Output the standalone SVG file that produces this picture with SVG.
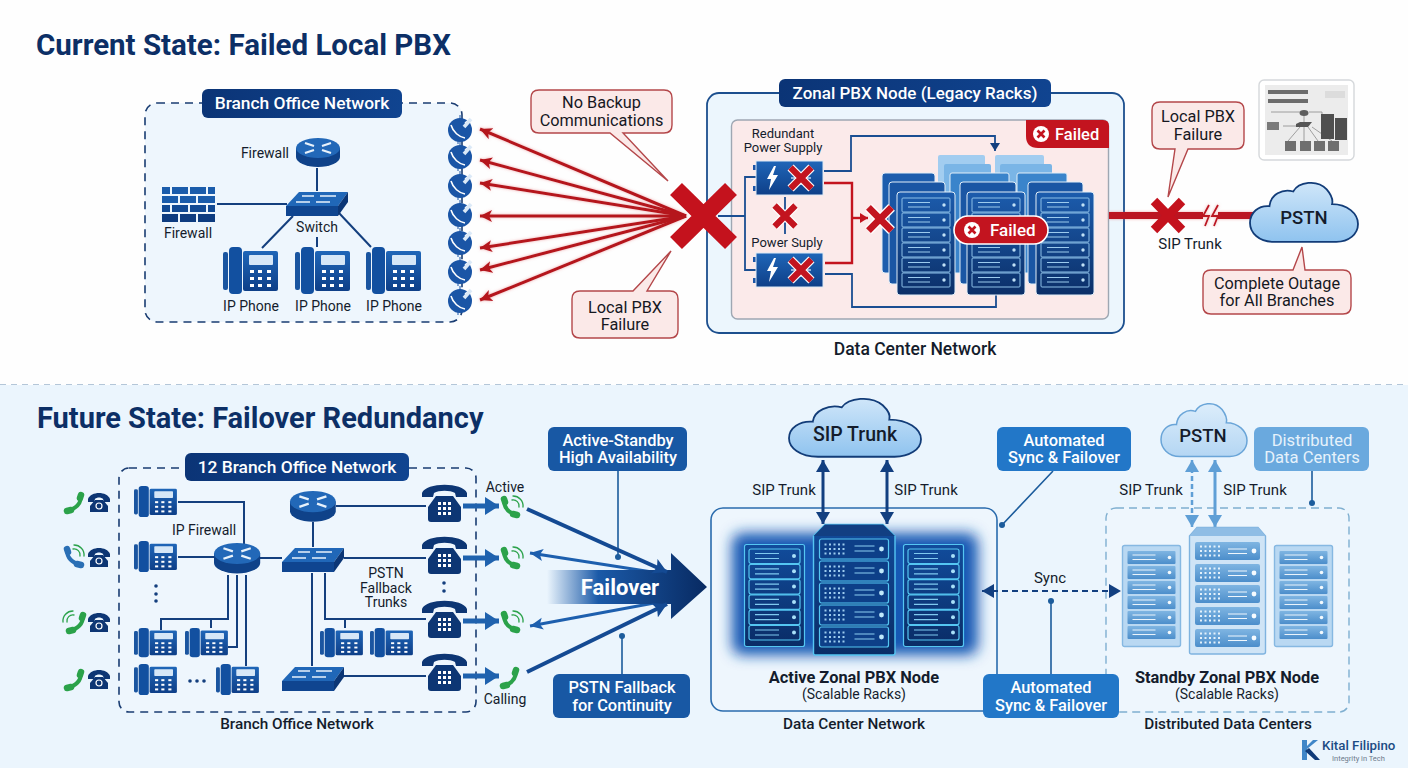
<svg xmlns="http://www.w3.org/2000/svg" width="1408" height="768" viewBox="0 0 1408 768">
<style>
text{font-family:Roboto,"Liberation Sans",sans-serif;fill:#141c2c;font-size:14px}
.c{text-anchor:middle}
.s15{font-size:15px}
.lb{font-size:15.300px;font-weight:500;text-anchor:middle}
.h{font-size:29.500px;font-weight:700;fill:#0c2f66}
.pt{font-size:17.400px;font-weight:500;fill:#fff;text-anchor:middle}
.bt{font-size:16.400px;text-anchor:middle;fill:#fff;font-weight:500}
.rt{font-size:16.300px;text-anchor:middle;fill:#16181f}
.b{font-weight:700;font-size:16.400px;text-anchor:middle}
.pill{fill:url(#navy)}
.call{fill:#fbe9e8;stroke:#b4474a;stroke-width:1.400}
.wire{fill:none;stroke:#143f7e;stroke-width:2}
.thin{fill:none;stroke:#1a4e92;stroke-width:1.800}
.redw{fill:none;stroke:#c3141f;stroke-width:2.400}
.redarrow{stroke:#b5141d;stroke-width:3;marker-end:url(#rh)}
.fan{stroke:#1d5fae;stroke-width:3;marker-end:url(#bh2)}
.dk{stroke:#144a93;stroke-width:4;marker-end:url(#dkh)}
.ph{stroke:#1f62ae;stroke-width:5;marker-end:url(#bh3)}
.lead{fill:none;stroke:#1c5c9c;stroke-width:1.600}
.dot{fill:#1c5c9c}
.gr{fill:none;stroke:#2ba24a;stroke-linecap:round}
</style>
<defs>
<linearGradient id="navy" x1="0" x2="1" y1="0" y2="0"><stop offset="0" stop-color="#0b3476"/><stop offset="1" stop-color="#104490"/></linearGradient>
<linearGradient id="blue" x1="0" y1="0" x2="0" y2="1"><stop offset="0" stop-color="#1f66b8"/><stop offset="1" stop-color="#0e3f88"/></linearGradient>
<linearGradient id="rackg" x1="0" y1="0" x2="0" y2="1"><stop offset="0" stop-color="#1c5cad"/><stop offset="1" stop-color="#0b2f68"/></linearGradient>
<linearGradient id="acg" x1="0" y1="0" x2="0" y2="1"><stop offset="0" stop-color="#114c9c"/><stop offset="1" stop-color="#0a2c66"/></linearGradient>
<linearGradient id="stg" x1="0" y1="0" x2="0" y2="1"><stop offset="0" stop-color="#7fb5e2"/><stop offset="1" stop-color="#4c8ecb"/></linearGradient>
<linearGradient id="fo" x1="0" x2="1" y1="0" y2="0"><stop offset="0" stop-color="#1b5aa8" stop-opacity="0"/><stop offset=".32" stop-color="#1b5aa8"/><stop offset="1" stop-color="#082a62"/></linearGradient>
<linearGradient id="cl" x1="0" y1="0" x2="0" y2="1"><stop offset="0" stop-color="#cfe6f9"/><stop offset="1" stop-color="#8fc3ef"/></linearGradient>
<linearGradient id="cl2" x1="0" y1="0" x2="0" y2="1"><stop offset="0" stop-color="#dcedfb"/><stop offset="1" stop-color="#b4d6f3"/></linearGradient>
<filter id="rglow" filterUnits="userSpaceOnUse" x="0" y="0" width="1408" height="768"><feDropShadow dx="0" dy="0" stdDeviation="1.600" flood-color="#e2646a" flood-opacity=".55"/></filter>
<filter id="blur14" x="-20%" y="-30%" width="140%" height="160%"><feGaussianBlur stdDeviation="7"/></filter>
<marker id="rh" markerUnits="userSpaceOnUse" markerWidth="14" markerHeight="14" refX="12" refY="7" orient="auto"><path d="M0,1 L12,7 L0,13 L3,7Z" fill="#b5141d"/></marker>
<marker id="bh2" markerUnits="userSpaceOnUse" markerWidth="14" markerHeight="14" refX="13" refY="7" orient="auto"><path d="M0,1 L13,7 L0,13 L3,7Z" fill="#1d5fae"/></marker>
<marker id="dkh" markerUnits="userSpaceOnUse" markerWidth="16" markerHeight="16" refX="14" refY="8" orient="auto"><path d="M0,0 L14,8 L0,16 L3,8Z" fill="#144a93"/></marker>
<marker id="bh3" markerUnits="userSpaceOnUse" markerWidth="16" markerHeight="18" refX="14" refY="9" orient="auto"><path d="M0,0 L14,9 L0,18Z" fill="#1f62ae"/></marker>
<marker id="nv" markerUnits="userSpaceOnUse" markerWidth="14" markerHeight="14" refX="12" refY="7" orient="auto-start-reverse"><path d="M0,0 L12,7 L0,14Z" fill="#123f80"/></marker>
<marker id="lb" markerUnits="userSpaceOnUse" markerWidth="14" markerHeight="14" refX="12" refY="7" orient="auto-start-reverse"><path d="M0,0 L12,7 L0,14Z" fill="#5f9fd6"/></marker>
<marker id="sm" markerUnits="userSpaceOnUse" markerWidth="10" markerHeight="10" refX="8" refY="5" orient="auto"><path d="M0,0 L8,5 L0,10Z" fill="#143f7e"/></marker>
<marker id="smr" markerUnits="userSpaceOnUse" markerWidth="10" markerHeight="10" refX="8" refY="5" orient="auto"><path d="M0,0 L8,5 L0,10Z" fill="#c3141f"/></marker>

<g id="ipphone">
<rect x="0" y="5" width="5" height="38" rx="2" fill="#1a55a0"/>
<rect x="6" y="0" width="13" height="47" rx="4" fill="#1250a0"/>
<rect x="20" y="4" width="35" height="40" rx="2" fill="url(#blue)"/>
<rect x="26" y="8" width="24" height="10" rx="1" fill="#d6e7f7"/>
<g fill="#fff"><rect x="27" y="23" width="4" height="3"/><rect x="35" y="23" width="4" height="3"/><rect x="44" y="23" width="4" height="3"/><rect x="27" y="30" width="4" height="3"/><rect x="35" y="30" width="4" height="3"/><rect x="44" y="30" width="4" height="3"/><rect x="27" y="37" width="4" height="3"/><rect x="35" y="37" width="4" height="3"/><rect x="44" y="37" width="4" height="3"/></g>
</g>
<g id="router">
<path d="M0,10 V19 A22,10 0 0 0 44,19 V10Z" fill="#0f4289"/>
<ellipse cx="22" cy="10" rx="22" ry="10" fill="#2268b8"/>
<path d="M9,5 L18,8 M35,5 L26,8 M9,15 L18,12 M35,15 L26,12" stroke="#e8f2fb" stroke-width="2.200" fill="none"/>
</g>
<g id="switch">
<path d="M0,15 L13,1 H62 L52,15Z" fill="#2067b8"/>
<rect x="0" y="15" width="52" height="10" fill="#0f4590"/>
<path d="M52,15 L62,1 V11 L52,25Z" fill="#0b3676"/>
<path d="M16,5 H28 M34,5 H50 M10,11 H24 M30,11 H44" stroke="#e8f2fb" stroke-width="1.400" fill="none"/>
</g>
<g id="firewall" fill="#1a5cab">
<rect x="0" y="0" width="8" height="7"/><rect x="10" y="0" width="16" height="7"/><rect x="28" y="0" width="16" height="7"/><rect x="46" y="0" width="7" height="7"/>
<rect x="0" y="9" width="16" height="7"/><rect x="18" y="9" width="16" height="7"/><rect x="36" y="9" width="17" height="7"/>
<rect x="0" y="18" width="8" height="7" fill="#124a94"/><rect x="10" y="18" width="16" height="7" fill="#124a94"/><rect x="28" y="18" width="16" height="7" fill="#124a94"/><rect x="46" y="18" width="7" height="7" fill="#124a94"/>
<rect x="0" y="27" width="16" height="8" fill="#0e3c80"/><rect x="18" y="27" width="16" height="8" fill="#0e3c80"/><rect x="36" y="27" width="17" height="8" fill="#0e3c80"/>
</g>
<g id="classic">
<path d="M0,8 C4,-3 41,-3 45,8 V12 H34 L33,8 C28,5 17,5 12,8 L11,12 H0Z" fill="#0d3674"/>
<path d="M14,11 H31 L39,22 V34 Q39,37 36,37 H9 Q6,37 6,34 V22Z" fill="#0d3674"/>
<g fill="#fff"><rect x="16" y="17" width="3" height="3"/><rect x="21" y="17" width="3" height="3"/><rect x="26" y="17" width="3" height="3"/><rect x="16" y="22" width="3" height="3"/><rect x="21" y="22" width="3" height="3"/><rect x="26" y="22" width="3" height="3"/><rect x="16" y="27" width="3" height="3"/><rect x="21" y="27" width="3" height="3"/><rect x="26" y="27" width="3" height="3"/></g>
</g>
<g id="oldphone">
<path d="M0,6 C3,-2 19,-2 22,6 V9 H16 L15,6 C13,4 9,4 7,6 L6,9 H0Z" fill="#0d3674"/>
<path d="M7,7 H15 L20,13 V19 H2 V13Z" fill="#0d3674"/>
<circle cx="11" cy="13" r="3" fill="none" stroke="#fff" stroke-width="1.200"/>
</g>
<g id="badge">
<circle r="12" fill="#1a55a6"/>
<path d="M-9,-5 C-7,2 -1,7 5,8 M5,-7 L11,-12" stroke="#fff" stroke-width="1.600" fill="none"/>
<path d="M4,-3 L11,-11" stroke="#dbe9f7" stroke-width="3.600"/>
<path d="M0,-15 V-11 M-2,14 V10" stroke="#1a55a6" stroke-width="1"/>
</g>
<g id="hsR"><path class="gr" stroke-width="4" d="M-6,-7 C-6,1 -1,6 7,8"/><path class="gr" stroke-width="6.500" d="M-6,-8 L-5,-5 M3,7 L7,8"/></g>
<g id="hsL"><path class="gr" stroke-width="4" d="M7,-7 C7,1 1,6 -7,8"/><path class="gr" stroke-width="6.500" d="M7,-8 L6,-5 M-3,7 L-7,8"/></g>
<g id="wavesR"><path class="gr" stroke-width="1.300" d="M1,-6 A6,6 0 0 1 8,1 M2,-10 A10,10 0 0 1 12,1"/></g>
<g id="xs"><path d="M-11,-11 L11,11 M11,-11 L-11,11" stroke="#fff" stroke-width="9" fill="none"/><path d="M-11,-11 L11,11 M11,-11 L-11,11" stroke="#c3141f" stroke-width="6.500" fill="none"/></g>
<g id="xc"><circle r="8" fill="#fff"/><path d="M-3.500,-3.500 L3.500,3.500 M3.500,-3.500 L-3.500,3.500" stroke="#c3141f" stroke-width="2.600"/></g>
<g id="psu">
<rect x="-3" y="4" width="3" height="5" fill="#1a55a6"/><rect x="-3" y="25" width="3" height="5" fill="#1a55a6"/>
<rect width="67" height="34" fill="url(#blue)" stroke="#dde9f5"/>
<path d="M18,5 L11,18 H15 L13,29 L22,14 H17 L20,5Z" fill="#fff"/>
<path d="M35,12 H55 M35,17 H55 M35,23 H55" stroke="#bcd6ee" stroke-width="1.400"/>
<use href="#xs" transform="translate(45,17) scale(.95)"/>
</g>
<g id="u"><rect x="0" y="0" width="48" height="14" rx="1" fill="none" stroke="#8dc0e8" stroke-width="1"/><path d="M6,4.500 H28 M6,9 H28" stroke="#9ccbee" stroke-width="1.200"/><circle cx="42" cy="7" r="1.700" fill="#bfe0f6"/></g>
<g id="legacy">
<rect x="0" y="0" width="58" height="103" rx="3" fill="url(#rackg)" stroke="#e2eef8"/>
<use href="#u" x="5" y="6"/><use href="#u" x="5" y="21"/><use href="#u" x="5" y="36"/><use href="#u" x="5" y="51"/><use href="#u" x="5" y="66"/><use href="#u" x="5" y="81"/>
</g>
<g id="ua"><rect x="0" y="0" width="51" height="14.500" rx="2" fill="none" stroke="#55c6f2" stroke-width="1.200"/><path d="M6,4.500 H30 M6,9.500 H30" stroke="#7fc9ef" stroke-width="1.200"/><circle cx="45" cy="7" r="2" fill="#a8e0f8"/></g>
<g id="active">
<rect x=".5" y=".5" width="60" height="102" rx="2" fill="url(#acg)" stroke="#55c6f2" stroke-width="1.200"/>
<use href="#ua" x="5" y="5"/><use href="#ua" x="5" y="20.300"/><use href="#ua" x="5" y="35.600"/><use href="#ua" x="5" y="50.900"/><use href="#ua" x="5" y="66.200"/><use href="#ua" x="5" y="81.500"/>
</g>
<g id="dots6"><path d="M0,0 H22 M0,4.500 H22 M0,9 H22" stroke-width="2" stroke-dasharray="2 2.500" fill="none"/></g>
<g id="uA"><rect width="69" height="20" rx="2" fill="#0d3f88" stroke="#55c6f2" stroke-width="1.200"/><use href="#dots6" x="5" y="5.500" stroke="#9ccbee"/><path d="M35,7 H55 M35,12 H55" stroke="#8dd0f2" stroke-width="1.200"/><circle cx="62" cy="10" r="2.400" fill="#bfe9fb"/></g>
<g id="activeC">
<path d="M.5,12 L12,.5 H70 L82,12 V129 Q82,131 80,131 H2 Q.5,131 .5,129Z" fill="url(#acg)" stroke="#55c6f2" stroke-width="1.400"/>
<path d="M.5,12 L12,.5 H70 L82,12Z" fill="#123f82"/>
<use href="#uA" x="6.500" y="15"/><use href="#uA" x="6.500" y="37"/><use href="#uA" x="6.500" y="59"/><use href="#uA" x="6.500" y="81"/><use href="#uA" x="6.500" y="103"/>
</g>
<g id="us"><rect width="48" height="13" rx="1" fill="url(#stg)"/><path d="M5,4 H28 M5,8.500 H28" stroke="#eaf4fc" stroke-width="1.200"/><circle cx="42" cy="6.500" r="1.800" fill="#f4fafe"/></g>
<g id="standby">
<rect x=".5" y=".5" width="58" height="101" rx="2" fill="#b9d8f2" stroke="#86b8e2" stroke-width="1.400"/>
<use href="#us" x="5.500" y="6"/><use href="#us" x="5.500" y="21"/><use href="#us" x="5.500" y="36"/><use href="#us" x="5.500" y="51"/><use href="#us" x="5.500" y="66"/><use href="#us" x="5.500" y="81"/>
</g>
<g id="uS"><rect width="65" height="18" rx="2" fill="url(#stg)"/><use href="#dots6" x="5" y="4.500" stroke="#e4f1fb"/><path d="M33,7 H52 M33,11.500 H52" stroke="#f0f7fd" stroke-width="1.200"/><circle cx="59" cy="9" r="2.400" fill="#f6fbff"/></g>
<g id="standbyC">
<path d="M.5,9 L8,.5 H69 L76.500,9 V125 Q76.500,127 74,127 H2.500 Q.5,127 .5,125Z" fill="#cfe4f6" stroke="#7fb3df" stroke-width="1.400"/>
<path d="M.5,9 L8,.5 H69 L76.500,9Z" fill="#8fbde5"/>
<use href="#uS" x="6" y="15"/><use href="#uS" x="6" y="37"/><use href="#uS" x="6" y="58"/><use href="#uS" x="6" y="80"/><use href="#uS" x="6" y="102"/>
</g>
<path id="cloud" d="M22,58 C8,58 0,49 0,40 C0,30 8,23 18,24 C19,13 30,7 40,10 C45,1 62,-2 71,8 C76,14 77,18 76,22 C90,22 100,31 100,41 C100,51 91,58 80,58Z" vector-effect="non-scaling-stroke"/>
</defs>

<rect width="1408" height="768" fill="#fefefe"/>
<rect y="385" width="1408" height="383" fill="#ebf5fd"/>
<path d="M0,384.500 H1408" stroke="#b4c6d8" stroke-dasharray="6 5" fill="none"/>

<text class="h" x="36" y="55">Current State: Failed Local PBX</text>
<text class="h" x="37" y="428" style="font-size:29px">Future State: Failover Redundancy</text>

<g id="branch-top-frame">
<rect x="145" y="103" width="317" height="219" rx="12" fill="#eef6fd" stroke="#1a3d72" stroke-width="1.600" stroke-dasharray="8 6"/>
</g>
<g id="zonal-frame">
<rect x="707" y="93" width="417" height="240" rx="12" fill="#ecf6fd" stroke="#1c4f8e" stroke-width="1.800"/>
<rect x="731.500" y="120" width="377" height="199" rx="6" fill="#fbeaea" stroke="#9ea7b2" stroke-width="1.400"/>
</g>
<g id="branch-bottom-frame">
<rect x="119" y="468" width="357" height="244" rx="10" fill="#eef6fd" stroke="#1a3d72" stroke-width="1.600" stroke-dasharray="8 6"/>
</g>
<g id="active-frame">
<rect x="711" y="508" width="286" height="203" rx="12" fill="#eef6fd" stroke="#2a6bad" stroke-width="1.600"/>
<rect x="732" y="533" width="246" height="122" rx="10" fill="#1458b4" filter="url(#blur14)"/>
</g>
<g id="standby-frame">
<rect x="1106" y="508" width="243" height="204" rx="10" fill="#eef6fd" stroke="#7fafd0" stroke-width="1.400" stroke-dasharray="8 5"/>
</g>

<g id="connectors">
<path class="wire" d="M317,168 V191 M217,204 H287 M293,216 L262,248 M317,237 V247 M339,213 L371,247"/>
<g filter="url(#rglow)">
<line class="redarrow" x1="686" y1="216" x2="480" y2="129"/>
<line class="redarrow" x1="686" y1="216" x2="480" y2="160"/>
<line class="redarrow" x1="686" y1="216" x2="480" y2="183"/>
<line class="redarrow" x1="686" y1="216" x2="480" y2="216"/>
<line class="redarrow" x1="686" y1="216" x2="480" y2="248"/>
<line class="redarrow" x1="686" y1="216" x2="480" y2="270"/>
<line class="redarrow" x1="686" y1="216" x2="480" y2="300"/>
</g>
<path class="thin" d="M718,216 H745 M756,177 H745 V270 H756 M785,197 V234"/>
<path class="thin" d="M824,171 H851 V136 H995 V151" marker-end="url(#sm)"/>
<path class="thin" d="M825,274 H852 V307 H996 V294"/>
<path class="redw" d="M824,183 H852 V263 H825"/>
<path class="redw" d="M852,218 H868" marker-end="url(#smr)"/>
<g filter="url(#rglow)"><path d="M1109,215.500 H1203 M1218,215.500 H1256" stroke="#bb1620" stroke-width="7" fill="none"/>
<path d="M1209,205 L1203,216 L1209,216 L1205,226 M1218,205 L1212,216 L1218,216 L1214,226" stroke="#bb1620" stroke-width="1.800" fill="none"/></g>

<path class="wire" d="M178,502 H244 V544 M178,557 H214 M260,558 H282 M313,522 V547 M336,506 H426 M344,558 H426 M312,573 V666 M325,573 V619 H426 M345,619 V628 M344,676 H426"/>
<path class="wire" d="M228,575 V619 H161 V630 M211,619 V628 M237,575 V647 H228 M246,575 V666"/>
<line class="ph" x1="463" y1="506" x2="499" y2="506"/>
<line class="ph" x1="463" y1="558" x2="499" y2="558"/>
<line class="ph" x1="463" y1="621" x2="499" y2="621"/>
<line class="ph" x1="463" y1="676" x2="499" y2="676"/>
<line class="fan" x1="665" y1="574" x2="530" y2="553"/>
<line class="fan" x1="665" y1="601" x2="530" y2="626"/>
<path class="lead" d="M618,471 V557 M622,674 V636 M1053,471 L1002,525 M1051,674 V601 M1312,471 V503"/>
<circle class="dot" cx="618" cy="557" r="3"/><circle class="dot" cx="622" cy="636" r="3"/><circle class="dot" cx="1002" cy="525" r="3"/><circle class="dot" cx="1051" cy="601" r="3"/><circle class="dot" cx="1312" cy="503" r="3"/>
<path d="M823,460 V524" stroke="#123f80" stroke-width="3" marker-start="url(#nv)" marker-end="url(#nv)" fill="none"/>
<path d="M887,460 V524" stroke="#123f80" stroke-width="3" marker-start="url(#nv)" marker-end="url(#nv)" fill="none"/>
<path d="M982,591 H1121" stroke="#123f80" stroke-width="2" stroke-dasharray="6 4" marker-start="url(#nv)" marker-end="url(#nv)" fill="none"/>
<path d="M1192,460 V527" stroke="#5f9fd6" stroke-width="2.500" stroke-dasharray="5 3" marker-start="url(#lb)" marker-end="url(#lb)" fill="none"/>
<path d="M1215,460 V527" stroke="#5f9fd6" stroke-width="3" marker-start="url(#lb)" marker-end="url(#lb)" fill="none"/>
</g>

<g id="branch-top-title"><rect class="pill" x="202" y="89" width="200" height="29" rx="6"/><text class="pt" x="302" y="109">Branch Office Network</text></g>
<g id="router-top"><use href="#router" x="296" y="138"/><text x="289" y="158" text-anchor="end">Firewall</text></g>
<g id="switch-top"><use href="#switch" x="286" y="191"/><text class="c" x="317" y="232">Switch</text></g>
<g id="firewall-top"><use href="#firewall" x="162" y="187"/><text class="c" x="188" y="238">Firewall</text></g>
<g id="phone-1"><use href="#ipphone" x="223" y="247"/><text class="c" x="251" y="311">IP Phone</text></g>
<g id="phone-2"><use href="#ipphone" x="295" y="247"/><text class="c" x="323" y="311">IP Phone</text></g>
<g id="phone-3"><use href="#ipphone" x="366" y="247"/><text class="c" x="394" y="311">IP Phone</text></g>
<g id="badges">
<use href="#badge" x="460" y="130"/><use href="#badge" x="460" y="157"/><use href="#badge" x="460" y="186"/><use href="#badge" x="460" y="215"/><use href="#badge" x="460" y="243"/><use href="#badge" x="460" y="272"/><use href="#badge" x="460" y="301"/>
</g>

<g id="callout-backup"><path class="call" d="M539,90 H664 Q672,90 672,98 V125 Q672,133 664,133 H623 L668,181 L610,133 H539 Q531,133 531,125 V98 Q531,90 539,90Z"/><text class="rt" x="601.500" y="108">No Backup</text><text class="rt" x="601.500" y="126">Communications</text></g>
<g id="callout-local"><path class="call" d="M580,291 H633 L671,251 L647,291 H670 Q678,291 678,299 V330 Q678,338 670,338 H580 Q572,338 572,330 V299 Q572,291 580,291Z"/><text class="rt" x="625" y="313">Local PBX</text><text class="rt" x="625" y="330">Failure</text></g>
<g id="big-x"><path d="M676,189 L731,243 M731,189 L676,243" stroke="#c4121d" stroke-width="17" fill="none"/></g>

<g id="zonal-title"><rect class="pill" x="779" y="79" width="272" height="28" rx="6"/><text class="pt" x="915" y="99" style="font-size:17px">Zonal PBX Node (Legacy Racks)</text></g>
<g id="failed-tab"><path d="M1026,120 H1103 Q1109,120 1109,126 V148 H1038 Q1026,148 1026,136Z" fill="#c3141f"/><use href="#xc" x="1041" y="134"/><text x="1055" y="140" style="fill:#fff;font-size:16.500px;font-weight:500">Failed</text></g>
<g id="psu-a"><text class="c" x="783" y="138" style="font-size:13px">Redundant</text><text class="c" x="783" y="152" style="font-size:13px">Power Supply</text><use href="#psu" x="756" y="161"/></g>
<g id="psu-b"><text class="c" x="787" y="247" style="font-size:13px">Power Suply</text><use href="#psu" x="756" y="253"/></g>
<g id="x-mid"><use href="#xs" transform="translate(785,216) scale(.95)"/></g>

<g id="racks-back">
<rect x="938" y="155" width="47" height="60" rx="2" fill="#a2cdf0"/><rect x="995" y="155" width="49" height="60" rx="2" fill="#a2cdf0"/>
<rect x="944" y="164" width="47" height="70" rx="2" fill="#7ab5e6"/><rect x="1000" y="164" width="52" height="70" rx="2" fill="#7ab5e6"/>
<rect x="950" y="173" width="59" height="100" rx="2" fill="#3a84cb" stroke="#e2eef8"/><rect x="1017" y="173" width="50" height="100" rx="2" fill="#3a84cb" stroke="#e2eef8"/>
<rect x="882" y="173" width="53" height="100" rx="3" fill="#1d5dad" stroke="#e2eef8"/>
<rect x="889" y="182" width="56" height="102" rx="3" fill="#1a56a4" stroke="#e2eef8"/>
<rect x="960" y="182" width="56" height="102" rx="3" fill="#1a56a4" stroke="#e2eef8"/>
<rect x="1028" y="182" width="55" height="102" rx="3" fill="#1a56a4" stroke="#e2eef8"/>
</g>
<g id="rack-a"><use href="#legacy" x="897" y="192"/></g>
<g id="rack-b"><use href="#legacy" x="967" y="192"/></g>
<g id="rack-c"><use href="#legacy" x="1036" y="192"/></g>
<g id="x-racks"><use href="#xs" transform="translate(880,219) scale(1.050)"/></g>
<g id="failed-pill"><rect x="954" y="216" width="94" height="28" rx="14" fill="#c3141f" stroke="#fff" stroke-width="1.600"/><use href="#xc" x="972" y="230"/><text x="990" y="236" style="fill:#fff;font-size:17px;font-weight:500">Failed</text></g>
<text class="c" x="915" y="355" style="font-size:17.500px;font-weight:500">Data Center Network</text>

<g id="thumbnail">
<rect x="1259" y="80" width="95" height="80" rx="5" fill="#fff" stroke="#d5d8db" stroke-width="1.400"/>
<rect x="1265" y="85" width="83" height="70" fill="#ececec"/>
<path d="M1268,90 H1308 V94 H1268Z M1268,99 H1308 V103 H1268Z" fill="#6c6c6c"/>
<rect x="1325" y="91" width="20" height="7" fill="#dcdcdc"/>
<ellipse cx="1304" cy="113" rx="4.500" ry="3" fill="#5e5e5e"/>
<path d="M1271,112 H1300 M1304,116 V124 M1309,112 H1322 V118 M1300,127 L1288,141 M1304,127 V141 M1308,127 L1318,141 M1312,127 L1332,141 M1283,126 H1296" stroke="#8a8a8a" fill="none" stroke-width=".8"/>
<rect x="1267" y="122" width="12" height="8" fill="#7a7a7a"/>
<path d="M1296,124 L1300,122 H1312 L1308,127 H1296Z" fill="#555"/>
<rect x="1321" y="114" width="13" height="25" fill="#4f4f4f"/><rect x="1335" y="118" width="12" height="22" fill="#4f4f4f"/>
<rect x="1285" y="141" width="11" height="10" fill="#6f6f6f"/><rect x="1300" y="141" width="11" height="10" fill="#6f6f6f"/><rect x="1314" y="141" width="11" height="10" fill="#6f6f6f"/><rect x="1328" y="141" width="11" height="10" fill="#6f6f6f"/>
</g>
<g id="callout-sip"><path class="call" d="M1160,102 H1236 Q1244,102 1244,110 V141 Q1244,149 1236,149 H1188 L1168,197 L1175,149 H1160 Q1152,149 1152,141 V110 Q1152,102 1160,102Z"/><text class="rt" x="1198" y="122">Local PBX</text><text class="rt" x="1198" y="140">Failure</text></g>
<g id="x-sip"><path d="M1154,201 L1182,230 M1182,201 L1154,230" stroke="#c4121d" stroke-width="9" fill="none"/><text class="c s15" x="1190" y="249">SIP Trunk</text></g>
<g id="pstn-top"><use href="#cloud" transform="translate(1250,181) scale(1.080,1.050)" fill="url(#cl)" stroke="#123c78" stroke-width="1.800"/><text class="c" x="1304" y="224" style="font-size:18.500px;font-weight:500">PSTN</text></g>
<g id="callout-outage"><path class="call" d="M1211,270 H1293 L1302,247 L1305,270 H1343 Q1351,270 1351,278 V306 Q1351,314 1343,314 H1211 Q1203,314 1203,306 V278 Q1203,270 1211,270Z"/><text class="rt" x="1277" y="289">Complete Outage</text><text class="rt" x="1277" y="306">for All Branches</text></g>

<g id="branch-bottom-title"><rect class="pill" x="185" y="453" width="224" height="28" rx="6"/><text class="pt" x="297" y="473">12 Branch Office Network</text></g>
<g id="left-icons">
<use href="#hsL" x="74" y="503"/><use href="#oldphone" x="88" y="493"/>
<g transform="translate(74,557) scale(-1,1)"><path fill="none" stroke="#2a6fb5" stroke-linecap="round" stroke-width="4" d="M7,-7 C7,1 1,6 -7,8"/><path fill="none" stroke="#2a6fb5" stroke-linecap="round" stroke-width="6.500" d="M7,-8 L6,-5 M-3,7 L-7,8"/></g><use href="#wavesR" x="72" y="555"/><use href="#oldphone" x="88" y="548"/>
<use href="#hsL" x="76" y="623"/><g transform="translate(75,621) scale(-1,1)"><use href="#wavesR"/></g><use href="#oldphone" x="88" y="613"/>
<use href="#hsL" x="74" y="680"/><use href="#oldphone" x="88" y="670"/>
</g>
<g id="phones-bottom">
<use href="#ipphone" transform="translate(134,486) scale(.78,.66)"/>
<use href="#ipphone" transform="translate(134,541) scale(.78,.66)"/>
<use href="#ipphone" transform="translate(134,628) scale(.78,.62)"/>
<use href="#ipphone" transform="translate(185,628) scale(.78,.62)"/>
<use href="#ipphone" transform="translate(134,664) scale(.78,.66)"/>
<use href="#ipphone" transform="translate(216,664) scale(.78,.66)"/>
<use href="#ipphone" transform="translate(320,628) scale(.78,.62)"/>
<use href="#ipphone" transform="translate(370,628) scale(.78,.62)"/>
<g fill="#143f7e"><circle cx="156" cy="586" r="1.800"/><circle cx="156" cy="594" r="1.800"/><circle cx="156" cy="601" r="1.800"/><circle cx="190" cy="681" r="1.800"/><circle cx="197" cy="681" r="1.800"/><circle cx="204" cy="681" r="1.800"/><circle cx="444" cy="583" r="1.800"/><circle cx="444" cy="591" r="1.800"/></g>
</g>
<g id="router-b1"><use href="#router" transform="translate(214,543) scale(1.050,1.050)"/><text class="c" x="204" y="535">IP Firewall</text></g>
<g id="router-b2"><use href="#router" transform="translate(290,491) scale(1.040,1.060)"/></g>
<g id="switch-b1"><use href="#switch" x="282" y="547"/></g>
<g id="switch-b2"><use href="#switch" x="282" y="666"/></g>
<g id="classics"><use href="#classic" x="422" y="485"/><use href="#classic" x="422" y="537"/><use href="#classic" x="422" y="601"/><use href="#classic" x="422" y="654"/></g>
<g id="active-label"><use href="#hsR" x="510" y="507"/><use href="#wavesR" x="511" y="506"/><text class="c" x="505" y="492">Active</text></g>
<g id="call-2"><use href="#hsR" x="510" y="558"/><use href="#wavesR" x="511" y="557"/></g>
<g id="call-3"><use href="#hsR" x="510" y="622"/><use href="#wavesR" x="511" y="621"/></g>
<g id="calling-label"><g transform="translate(510,678) scale(-1,1)"><use href="#hsR"/></g><text class="c" x="505" y="704">Calling</text></g>
<text class="c" x="386" y="578">PSTN</text><text class="c" x="386" y="593">Fallback</text><text class="c" x="386" y="607">Trunks</text>
<text class="lb" x="297" y="729">Branch Office Network</text>

<g id="failover">
<path d="M547,570 H671 V553 L707,587 L671,619 V604 H547Z" fill="url(#fo)"/>
<line class="dk" x1="527" y1="509" x2="667" y2="572"/>
<line class="dk" x1="527" y1="672" x2="667" y2="604"/>
<text class="c" x="620" y="595" style="fill:#fff;font-size:22px;font-weight:700">Failover</text></g>
<g id="box-ha"><rect x="548" y="427" width="139" height="44" rx="6" fill="#1858a4"/><text class="bt" x="618" y="446">Active-Standby</text><text class="bt" x="618" y="463">High Availability</text></g>
<g id="box-fb"><rect x="553" y="674" width="137" height="44" rx="6" fill="#1858a4"/><text class="bt" x="622" y="693">PSTN Fallback</text><text class="bt" x="622" y="711">for Continuity</text></g>

<g id="sip-cloud"><use href="#cloud" transform="translate(789,397) scale(1.320,1.030)" fill="url(#cl)" stroke="#123c78" stroke-width="1.800"/><text class="c" x="855" y="441" style="font-size:19.500px;font-weight:500">SIP Trunk</text></g>
<text class="c s15" x="784" y="495">SIP Trunk</text><text class="c s15" x="926" y="495">SIP Trunk</text>
<g id="active-rack-l"><use href="#active" x="744" y="544"/></g>
<g id="active-rack-c"><use href="#activeC" x="813" y="524"/></g>
<g id="active-rack-r"><use href="#active" x="903" y="544"/></g>
<text class="b" x="854" y="683">Active Zonal PBX Node</text>
<text class="c" x="854" y="699">(Scalable Racks)</text>
<text class="lb" x="854" y="729">Data Center Network</text>

<g id="box-sync1"><rect x="997" y="427" width="134" height="44" rx="6" fill="#2277c8"/><text class="bt" x="1064" y="446">Automated</text><text class="bt" x="1064" y="463">Sync &amp; Failover</text></g>
<g id="box-sync2"><rect x="983" y="674" width="136" height="44" rx="6" fill="#2277c8"/><text class="bt" x="1051" y="693">Automated</text><text class="bt" x="1051" y="711">Sync &amp; Failover</text></g>
<text class="c s15" x="1050" y="583">Sync</text>

<g id="pstn-bottom"><use href="#cloud" transform="translate(1161,402) scale(.860,.940)" fill="url(#cl2)" stroke="#6aa5d8" stroke-width="1.500"/><text class="c" x="1203" y="442" style="font-size:18.500px;font-weight:500">PSTN</text></g>
<text class="c s15" x="1151" y="495">SIP Trunk</text><text class="c s15" x="1255" y="495">SIP Trunk</text>
<g id="box-dist"><rect x="1254" y="427" width="115" height="44" rx="6" fill="#6aa9de"/><text class="bt" x="1312" y="446" style="fill:#e6f2fb;font-weight:400;font-size:16.600px">Distributed</text><text class="bt" x="1312" y="463" style="fill:#e6f2fb;font-weight:400;font-size:16.600px">Data Centers</text></g>
<g id="standby-rack-l"><use href="#standby" x="1122" y="545"/></g>
<g id="standby-rack-c"><use href="#standbyC" x="1189" y="527"/></g>
<g id="standby-rack-r"><use href="#standby" x="1274" y="545"/></g>
<text class="b" x="1227" y="683">Standby Zonal PBX Node</text>
<text class="c" x="1227" y="699">(Scalable Racks)</text>
<text class="lb" x="1228" y="729">Distributed Data Centers</text>

<g id="logo">
<path d="M1302,740 H1307 V760 H1302Z" fill="#3f86c8"/><path d="M1307,749 L1318,740 H1313 L1307,746Z" fill="#3f86c8"/><path d="M1305,751 L1315,760 H1320 L1309,748Z" fill="#0f3a78"/>
<text x="1322" y="750" style="font-size:13.300px;font-weight:500;fill:#1c4c84">Kital Filipino</text>
<text x="1332" y="761" style="font-size:7.500px;fill:#6d7b8c">Integrity in Tech</text>
</g>
</svg>
